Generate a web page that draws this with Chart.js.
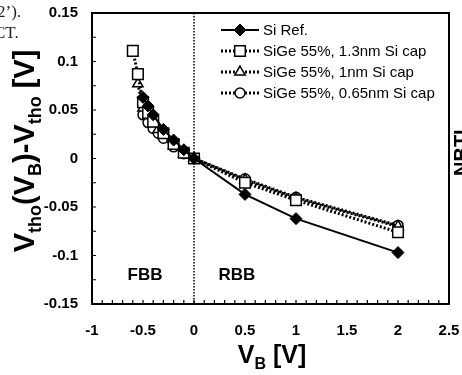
<!DOCTYPE html>
<html>
<head>
<meta charset="utf-8">
<script src="https://cdn.jsdelivr.net/npm/chart.js@4"></script>
<style>
  html, body { margin: 0; padding: 0; background: #fff; }
  #wrap { position: relative; width: 462px; height: 375px; overflow: hidden; }
  .note { position: absolute; left: 0; font-family: "Liberation Serif", "Times New Roman", serif; font-size: 17px; color: #222; }
</style>
</head>
<body>
<div id="wrap">
  <canvas id="vtChart" width="462" height="375"></canvas>
  <div class="note" style="top:2px;left:-3px;">2’).</div>
  <div class="note" style="top:23px;left:-6px;">CT.</div>
</div>
<script>
// Threshold shift vs body bias
const xTicks = [-1, -0.5, 0, 0.5, 1, 1.5, 2, 2.5];
const yTicks = [-0.15, -0.1, -0.05, 0, 0.05, 0.1, 0.15];

const seriesNames = ['Si Ref.', 'SiGe 55%, 1.3nm Si cap', 'SiGe 55%, 1nm Si cap', 'SiGe 55%, 0.65nm Si cap'];

const siRefVb = [-0.5, -0.45, -0.4, -0.3, -0.2, -0.1, 0, 0.5, 1, 2];
const siRefDv = [0.063, 0.054, 0.045, 0.030, 0.019, 0.009, 0, -0.037, -0.062, -0.097];

const sige13Vb = [-0.6, -0.55, -0.5, -0.45, -0.4, -0.3, -0.2, -0.1, 0, 0.5, 1, 2];
const sige13Dv = [0.111, 0.087, 0.058, 0.047, 0.038, 0.026, 0.015, 0.006, 0, -0.025, -0.043, -0.076];

const sige10Vb = [-0.55, -0.5, -0.45, -0.4, -0.35, -0.3, -0.2, -0.1, 0, 0.5, 1, 2];
const sige10Dv = [0.077, 0.052, 0.044, 0.036, 0.030, 0.024, 0.013, 0.005, 0, -0.022, -0.041, -0.070];

const sige065Vb = [-0.5, -0.45, -0.4, -0.35, -0.3, -0.2, -0.1, 0, 0.5, 1, 2];
const sige065Dv = [0.045, 0.037, 0.031, 0.026, 0.021, 0.012, 0.005, 0, -0.021, -0.040, -0.069];

const regionLabels = [
    { text: 'FBB', x: -0.48, y: -0.12 },
    { text: 'RBB', x: 0.42, y: -0.12 }
];

function toPoints(xs, ys) {
    return xs.map((x, i) => ({ x: x, y: ys[i] }));
}

function fmt(v) {
    return String(Math.round(v * 100) / 100);
}

// frame, minor ticks, zero line, region labels, legend
const decorPlugin = {
    id: 'decor',
    beforeDatasetsDraw(chart) {
        const ctx = chart.ctx;
        const xs = chart.scales.x;
        const a = chart.chartArea;
        const x0 = xs.getPixelForValue(0);
        ctx.save();
        ctx.strokeStyle = '#000';
        ctx.lineWidth = 1.5;
        ctx.setLineDash([1.5, 1.5]);
        ctx.beginPath();
        ctx.moveTo(x0, a.top);
        ctx.lineTo(x0, a.bottom);
        ctx.stroke();
        ctx.restore();
    },
    afterDraw(chart) {
        const ctx = chart.ctx;
        const xs = chart.scales.x;
        const ys = chart.scales.y;
        const a = chart.chartArea;
        ctx.save();
        ctx.strokeStyle = '#000';
        ctx.lineWidth = 2;
        ctx.strokeRect(a.left, a.top, a.right - a.left, a.bottom - a.top);

        // minor ticks (inside)
        ctx.lineWidth = 1.2;
        ctx.beginPath();
        for (let i = 1; i < 35; i++) {
            const px = xs.getPixelForValue(-1 + i * 0.1);
            ctx.moveTo(px, a.bottom);
            ctx.lineTo(px, a.bottom - 4);
        }
        for (let i = 1; i < 12; i++) {
            const py = ys.getPixelForValue(-0.15 + i * 0.025);
            ctx.moveTo(a.left, py);
            ctx.lineTo(a.left + 4, py);
        }
        ctx.stroke();

        // FBB / RBB
        ctx.fillStyle = '#000';
        ctx.font = 'bold 17px "Liberation Sans", Arial, sans-serif';
        ctx.textAlign = 'center';
        ctx.textBaseline = 'middle';
        regionLabels.forEach(r => {
            ctx.fillText(r.text, xs.getPixelForValue(r.x), ys.getPixelForValue(r.y));
        });

        // legend
        ctx.font = '15px "Liberation Sans", Arial, sans-serif';
        ctx.textAlign = 'left';
        chart.data.datasets.forEach((ds, i) => {
            const y = 30 + i * 21;
            ctx.strokeStyle = '#000';
            ctx.lineWidth = ds.borderWidth;
            ctx.setLineDash(ds.borderDash || []);
            ctx.beginPath();
            ctx.moveTo(221, y);
            ctx.lineTo(259, y);
            ctx.stroke();
            ctx.setLineDash([]);
            ctx.fillStyle = ds.pointBackgroundColor;
            ctx.lineWidth = ds.pointBorderWidth;
            Chart.helpers.drawPoint(ctx, {
                pointStyle: ds.pointStyle,
                radius: ds.pointRadius,
                borderWidth: ds.pointBorderWidth,
                rotation: 0
            }, 240, y);
            ctx.fillStyle = '#000';
            ctx.fillText(ds.label, 263, y + 1);
        });

        // y title
        ctx.translate(26, 151);
        ctx.rotate(-Math.PI / 2);
        drawSubText(ctx, [['V', 0], ['tho', 1], ['(V', 0], ['B', 1], [')-V', 0], ['tho', 1], [' [V]', 0]], 29, 18);
        ctx.restore();

        // x title
        ctx.save();
        ctx.translate(272, 356);
        drawSubText(ctx, [['V', 0], ['B', 1], [' [V]', 0]], 25, 16);
        ctx.restore();

        // cut-off side label
        ctx.save();
        ctx.translate(454, 176);
        ctx.rotate(-Math.PI / 2);
        ctx.fillStyle = '#000';
        ctx.font = 'bold 20px "Liberation Sans", Arial, sans-serif';
        ctx.textAlign = 'left';
        ctx.textBaseline = 'top';
        ctx.fillText('NBTI', 0, -2);
        ctx.restore();
    }
};

function drawSubText(ctx, parts, big, small) {
    const fBig = 'bold ' + big + 'px "Liberation Sans", Arial, sans-serif';
    const fSmall = 'bold ' + small + 'px "Liberation Sans", Arial, sans-serif';
    let total = 0;
    parts.forEach(p => {
        ctx.font = p[1] ? fSmall : fBig;
        total += ctx.measureText(p[0]).width;
    });
    let x = -total / 2;
    ctx.fillStyle = '#000';
    ctx.textAlign = 'left';
    ctx.textBaseline = 'middle';
    parts.forEach(p => {
        ctx.font = p[1] ? fSmall : fBig;
        ctx.fillText(p[0], x, p[1] ? big * 0.33 : 0);
        x += ctx.measureText(p[0]).width;
    });
}

const ctxEl = document.getElementById('vtChart');
new Chart(ctxEl, {
    type: 'scatter',
    data: {
        datasets: [
            {
                label: seriesNames[0],
                data: toPoints(siRefVb, siRefDv),
                showLine: true,
                borderColor: '#000',
                borderWidth: 2,
                pointStyle: 'rectRot',
                pointRadius: 6,
                pointBackgroundColor: '#000',
                pointBorderColor: '#000',
                pointBorderWidth: 1
            },
            {
                label: seriesNames[1],
                data: toPoints(sige13Vb, sige13Dv),
                showLine: true,
                borderColor: '#000',
                borderWidth: 3,
                borderDash: [2, 2],
                pointStyle: 'rect',
                pointRadius: 7.5,
                pointBackgroundColor: '#fff',
                pointBorderColor: '#000',
                pointBorderWidth: 1.5
            },
            {
                label: seriesNames[2],
                data: toPoints(sige10Vb, sige10Dv),
                showLine: true,
                borderColor: '#000',
                borderWidth: 3,
                borderDash: [2, 2],
                pointStyle: 'triangle',
                pointRadius: 6,
                pointBackgroundColor: '#fff',
                pointBorderColor: '#000',
                pointBorderWidth: 1.5
            },
            {
                label: seriesNames[3],
                data: toPoints(sige065Vb, sige065Dv),
                showLine: true,
                borderColor: '#000',
                borderWidth: 3,
                borderDash: [2, 2],
                pointStyle: 'circle',
                pointRadius: 5,
                pointBackgroundColor: '#fff',
                pointBorderColor: '#000',
                pointBorderWidth: 1.5
            }
        ]
    },
    options: {
        responsive: false,
        animation: false,
        layout: { padding: { top: 13, right: 13, left: 0, bottom: 0 } },
        plugins: {
            legend: { display: false },
            tooltip: { enabled: false }
        },
        scales: {
            x: {
                type: 'linear',
                min: -1,
                max: 2.5,
                afterBuildTicks: s => { s.ticks = xTicks.map(v => ({ value: v })); },
                afterFit: s => {
                    s.height = 71;
                    s.paddingLeft = 0;
                    s.paddingRight = 0;
                },
                grid: { display: false, drawTicks: false },
                border: { display: true, color: '#000', width: 2 },
                ticks: {
                    padding: 18,
                    color: '#000',
                    font: { family: '"Liberation Sans", Arial, sans-serif', size: 15, weight: 'bold' },
                    callback: v => fmt(v)
                }
            },
            y: {
                type: 'linear',
                min: -0.15,
                max: 0.15,
                afterBuildTicks: s => { s.ticks = yTicks.map(v => ({ value: v })); },
                afterFit: s => {
                    s.width = 92;
                    s.paddingTop = 0;
                    s.paddingBottom = 0;
                },
                grid: { display: false, drawTicks: false },
                border: { display: true, color: '#000', width: 2 },
                ticks: {
                    padding: 14,
                    color: '#000',
                    font: { family: '"Liberation Sans", Arial, sans-serif', size: 15, weight: 'bold' },
                    callback: v => fmt(v)
                }
            }
        }
    },
    plugins: [decorPlugin]
});
</script>
</body>
</html>
